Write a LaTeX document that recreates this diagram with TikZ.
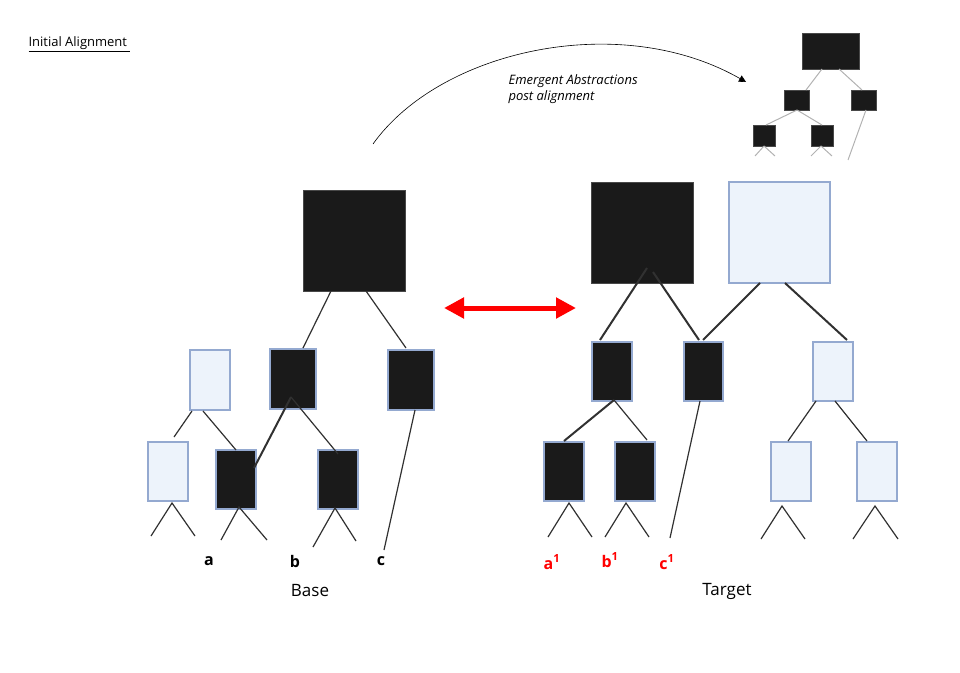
\documentclass[tikz,border=0pt]{standalone}
\usepackage{fontspec}
\setmainfont{Open Sans}
\usetikzlibrary{arrows.meta}
\definecolor{blk}{HTML}{1A1A1A}
\definecolor{lite}{HTML}{EDF3FB}
\definecolor{bord}{HTML}{94A9D0}
\begin{document}
\begin{tikzpicture}[x=1pt,y=-1pt,
  dk/.style={fill=blk,draw=bord,line width=1.5pt},
  dkn/.style={fill=blk,draw=blk!80,line width=0.8pt},
  lt/.style={fill=lite,draw=bord,line width=1.5pt},
  ln/.style={draw=blk!90,line width=1.2pt},
  lnt/.style={draw=blk!90,line width=2pt},
  gl/.style={draw=black!30,line width=1pt},
  lab/.style={font=\bfseries\fontsize{16}{18}\selectfont},
  rlab/.style={lab,text=red}]
\useasboundingbox (0,0) rectangle (960,672);
% title
\node[anchor=west,font=\fontsize{13}{15}\selectfont] (title) at (25,44) {\underline{Initial Alignment\ }};
% curve
\coordinate (cs) at (373,144);
\coordinate (ce) at (746,82);
\draw[line width=0.6pt,-{Triangle[length=7pt,width=7pt]}] (cs) .. controls (440,50) and (620,10) .. (ce);
\node[anchor=west,align=left,font=\itshape\fontsize{13}{16}\selectfont] (emerg) at (505,89) {Emergent Abstractions\\post alignment};
% small tree
\path[dkn] (802,33) rectangle (859,69);
\path[dkn] (784,90) rectangle (809,110);
\path[dkn] (851,90) rectangle (876,110);
\path[dkn] (753,125) rectangle (775,146);
\path[dkn] (811,125) rectangle (833,146);
\draw[gl] (822,69)--(806,90) (839,69)--(862,90)
 (797,110)--(766,125) (797,110)--(822,125) (866,110)--(848,160)
 (764,146)--(755,156) (764,146)--(775,156) (821,146)--(811,156) (821,146)--(832,156);
% Base tree
\node[dkn,minimum width=102pt,minimum height=101pt,inner sep=0] (broot) at (354,240.5) {};
\path[lt] (190,350) rectangle (230,410);
\node[dk,minimum width=46pt,minimum height=60pt,inner sep=0] (bm2) at (293,379) {};
\node[dk,minimum width=46pt,minimum height=60pt,inner sep=0] (bm3) at (411,380) {};
\path[lt] (148,442) rectangle (188,501);
\node[dk,minimum width=40pt,minimum height=59pt,inner sep=0] (ba) at (236,479.5) {};
\node[dk,minimum width=40pt,minimum height=59pt,inner sep=0] (bb) at (338,479.5) {};
\draw[ln] (331,291)--(303,348) (366,291)--(406,348)
 (192,411)--(174,437) (203,411)--(236,450)
 (338,454)--(291,397) (415,410)--(384,550);
\draw[lnt] (291,397)--(254,468);
\draw[ln] (151,536)--(172,503)--(195,536) (221,540)--(239,507)--(267,540) (313,547)--(335,508)--(356,541);
\node[lab] (la) at (209,561) {a};
\node[lab] (lb) at (295,561) {b};
\node[lab] (lc) at (381,561) {c};
\node[font=\fontsize{17}{20}\selectfont] (base) at (310,591) {Base};
% arrow
\coordinate (al) at (444,308);
\coordinate (ar) at (576,308);
\draw[red,line width=5pt,{Triangle[length=20pt,width=20pt]}-{Triangle[length=20pt,width=20pt]}] (al)--(ar);
% Target tree
\path[dkn] (591,182) rectangle (693,283);
\path[lt] (729,182) rectangle (830,283);
\path[dk] (592,342) rectangle (632,401);
\path[dk] (684,342) rectangle (723,401);
\path[lt] (813,342) rectangle (853,401);
\path[dk] (544,442) rectangle (584,501);
\path[dk] (615,442) rectangle (655,501);
\path[lt] (771,442) rectangle (811,501);
\path[lt] (857,442) rectangle (897,501);
\draw[lnt] (647,268)--(600,340) (653,272)--(699,340) (760,283)--(703,340) (785,283)--(847,340)
 (614,400)--(564,441);
\draw[ln] (614,400)--(647,440) (700,401)--(670,538) (816,401)--(788,441) (835,401)--(867,441);
\draw[ln] (548,537)--(569,503)--(592,537) (605,537)--(626,503)--(649,537)
 (761,539)--(782,506)--(805,539) (853,539)--(875,506)--(898,539);
\node[rlab] (ta) at (552,562) {a\textsuperscript{1}};
\node[rlab] (tb) at (610,560) {b\textsuperscript{1}};
\node[rlab] (tc) at (667,562) {c\textsuperscript{1}};
\node[font=\fontsize{17}{20}\selectfont] (target) at (727,591) {Target};
\end{tikzpicture}
\end{document}
